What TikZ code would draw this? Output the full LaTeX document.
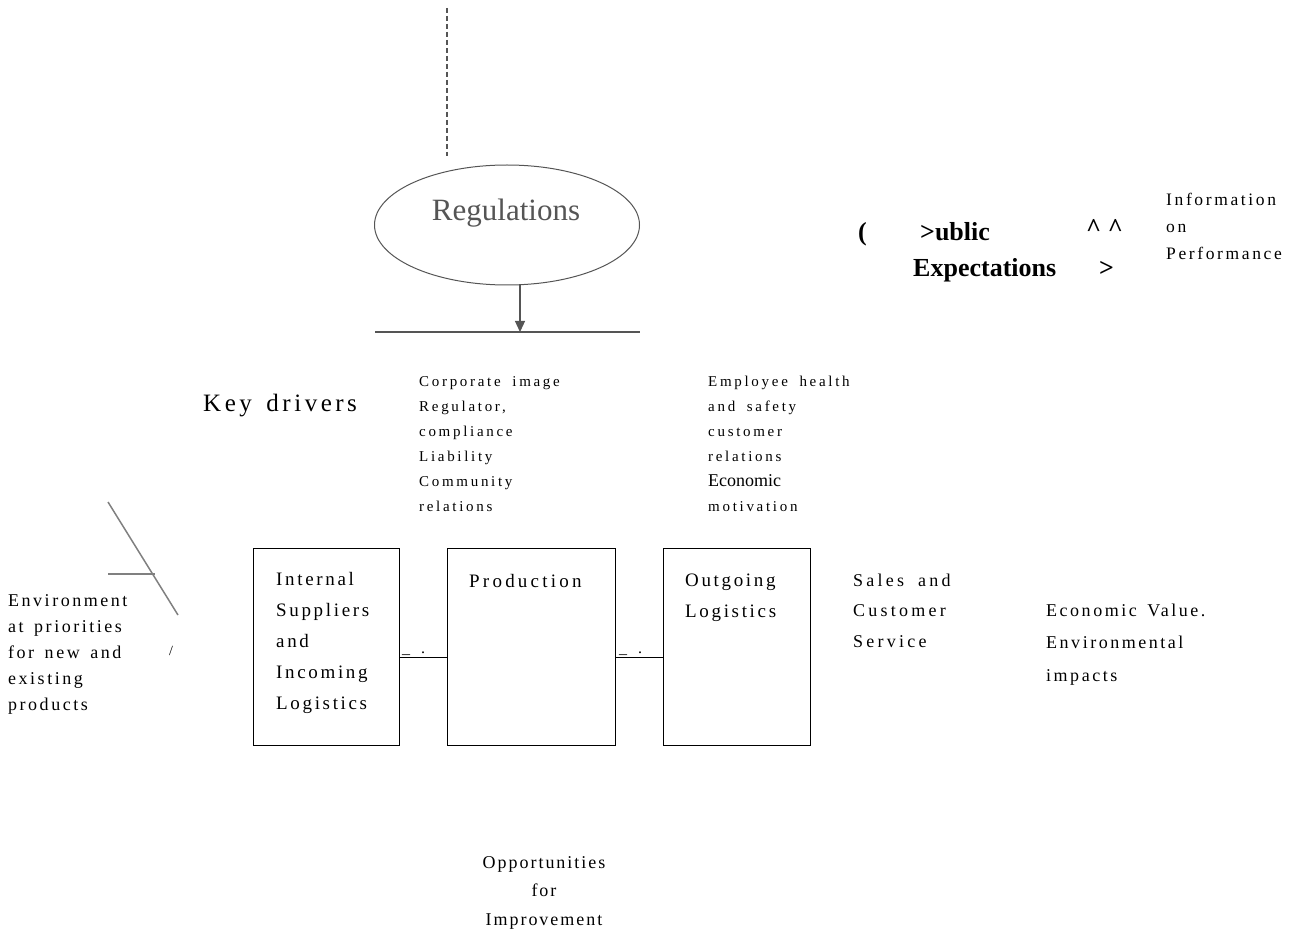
\documentclass[tikz,border=0pt]{standalone}
\usepackage{fontspec}
\setmainfont{Liberation Serif}
\newfontfamily\spaced[LetterSpace=14,WordSpace=1.5]{Liberation Serif}
\newfontfamily\spacedp[LetterSpace=17]{Liberation Serif}
\newfontfamily\spacedo[LetterSpace=11]{Liberation Serif}
\newfontfamily\spacedi[LetterSpace=15]{Liberation Serif}
\newfontfamily\spacedw[LetterSpace=18,WordSpace=1.8]{Liberation Serif}
\usetikzlibrary{arrows.meta,shapes.geometric}
\definecolor{reggray}{HTML}{555555}
\tikzset{
  txt/.style={inner sep=0pt, anchor=base west, align=left},
  stagebox/.style={draw, line width=0.9pt, minimum width=#1, minimum height=197pt, inner sep=0pt},
  smalltxt/.style={txt, font=\spacedw\fontsize{15}{25}\selectfont},
  boxtxt/.style={txt, font=\spaced\fontsize{19}{31}\selectfont},
  pubtxt/.style={inner sep=0pt, anchor=base west, font=\bfseries\fontsize{26}{28}\selectfont},
}
\begin{document}
\begin{tikzpicture}[x=1pt,y=-1pt]
\useasboundingbox (0,0) rectangle (1304,933);

% top dashed line and regulations
\coordinate (dtop) at (447,8);
\node[draw=reggray, line width=1pt, ellipse, minimum width=265pt, minimum height=120pt, inner sep=0pt] (reg) at (507,225) {};
\node[inner sep=0pt, anchor=base, font=\fontsize{31}{33}\selectfont, text=reggray] (regtxt) at (506,221) {Regulations};
\coordinate (dbot) at (447,156);
\draw[reggray, line width=1.6pt, dash pattern=on 5pt off 3pt] (dtop) -- (dbot);
\coordinate (hl) at (375,332);
\coordinate (hr) at (640,332);
\draw[reggray, line width=1.2pt] (hl) -- (hr);
\draw[reggray, line width=1.2pt, -{Triangle[length=11pt,width=10pt]}] (reg.south -| 520,0) -- (hl -| 520,0);

% public expectations
\node[pubtxt] (p1) at (858,241) {(};
\node[pubtxt] (p2) at (920,241) {>ublic};
\node[pubtxt] (p3) at (1086,237) {\^{} \^{}};
\node[pubtxt] (p4) at (913,277) {Expectations};
\node[pubtxt] (p5) at (1099,277) {>};
\node[txt, font=\spacedi\fontsize{17.5}{27}\selectfont] (info) at (1166,260) {Information\\on\\Performance};

% key drivers
\node[txt, font=\spaced\fontsize{25}{28}\selectfont] (key) at (203,411) {Key drivers};
\node[smalltxt] (d1) at (419,511) {Corporate image\\Regulator,\\compliance\\Liability\\Community\\relations};
\node[smalltxt] (d2) at (708,511) {Employee health\\and safety\\customer\\relations\\{\rmfamily\fontsize{18}{25}\selectfont Economic}\\motivation};

% boxes
\node[stagebox=146pt] (b1) at (326,646.5) {};
\node[stagebox=168pt] (b2) at (531,646.5) {};
\node[stagebox=147pt] (b3) at (736.5,646.5) {};
\node[boxtxt] (t1) at (276,709) {Internal\\Suppliers\\and\\Incoming\\Logistics};
\node[boxtxt, font=\spacedp\fontsize{19}{31}\selectfont] (t2) at (469,587) {Production};
\node[boxtxt] (t3) at (685,617) {Outgoing\\Logistics};
\draw[line width=0.9pt] (b1.east |- 0,657) -- (b2.west |- 0,657);
\draw[line width=0.9pt] (b2.east |- 0,657) -- (b3.west |- 0,657);
\node[txt, font=\fontsize{16}{20}\selectfont] (c1) at (402,653) {\_\hspace{11pt}.};
\node[txt, font=\fontsize{16}{20}\selectfont] (c2) at (619,653) {\_\hspace{11pt}.};

\node[txt, font=\spacedw\fontsize{18}{30.5}\selectfont] (sales) at (853,647) {Sales and\\Customer\\Service};
\node[txt, font=\spaced\fontsize{18}{32.5}\selectfont] (econ) at (1046,681) {Economic Value.\\Environmental\\impacts};

% left part
\node[txt, font=\spaced\fontsize{18}{26}\selectfont] (env) at (8,710) {Environment\\at priorities\\for new and\\existing\\products};
\coordinate (l1) at (108,502);
\coordinate (l2) at (178,615);
\coordinate (l3) at (108,574);
\coordinate (l4) at (155,574);
\draw[gray, line width=1.5pt] (l1) -- (l2);
\draw[gray, line width=1.5pt] (l3) -- (l4);
\node[txt, font=\fontsize{14}{16}\selectfont] (sl) at (169,655) {/};

% opportunities
\node[inner sep=0pt, align=center, font=\spacedo\fontsize{18}{28.5}\selectfont, anchor=north] (opp) at (544,856) {Opportunities\\for\\Improvement};
\end{tikzpicture}
\end{document}
